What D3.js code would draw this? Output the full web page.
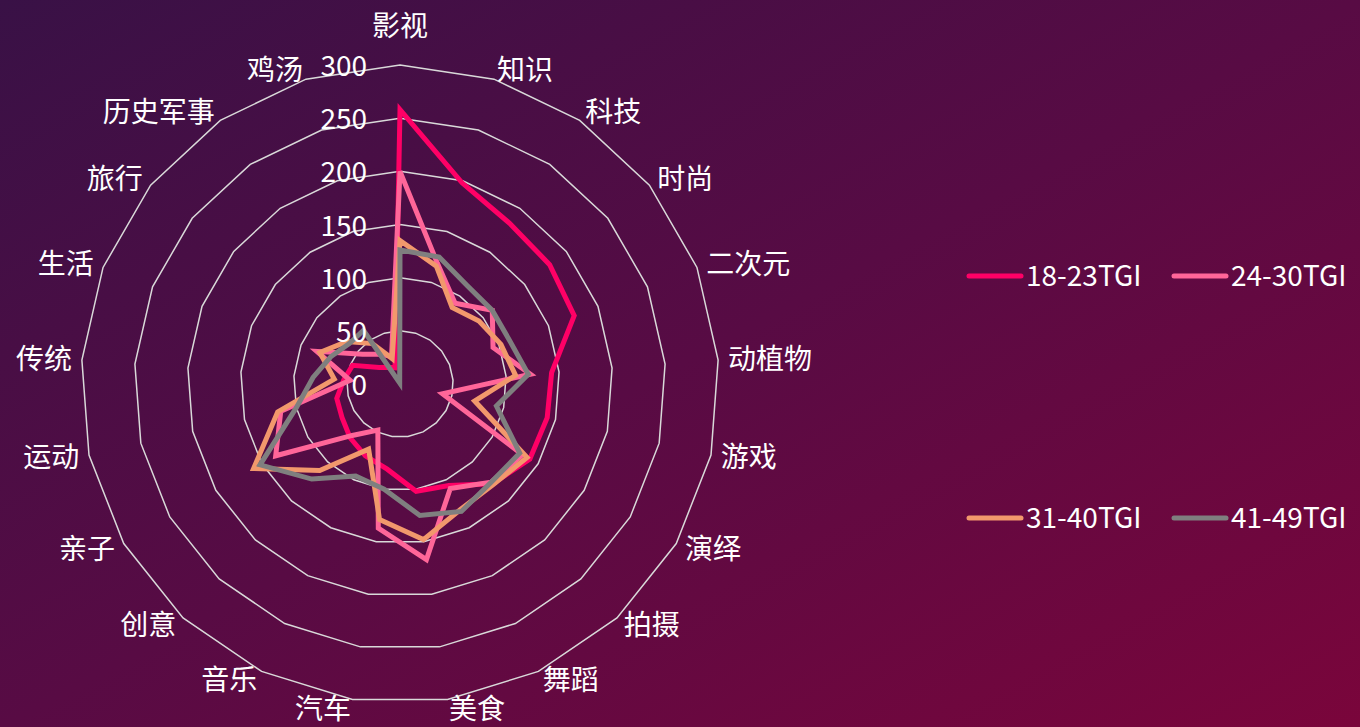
<!DOCTYPE html>
<html>
<head>
<meta charset="utf-8">
<script src="https://cdn.jsdelivr.net/npm/d3@7"></script>
<style>
  html, body { margin: 0; padding: 0; overflow: hidden; }
  svg { display: block; font-family: "Noto Sans CJK SC", "Noto Sans", sans-serif; }
</style>
</head>
<body>
<svg></svg>
<script>
var w = 1360, h = 727

// data
var categories = ["影视", "知识", "科技", "时尚", "二次元", "动植物", "游戏", "演绎", "拍摄", "舞蹈",
    "美食", "汽车", "音乐", "创意", "亲子", "运动", "传统", "生活", "旅行", "历史军事", "鸡汤"]
var seriesNames = ["18-23TGI", "24-30TGI", "31-40TGI", "41-49TGI"]
var tgi18_23 = [258, 198, 183, 180, 176, 143, 142, 141, 128, 106, 102, 81, 75, 69, 63, 61, 53, 48, 25, 19, 16]
var tgi24_30 = [200, 119, 92, 111, 94, 123, 41, 133, 126, 109, 167, 137, 48, 66, 135, 115, 47, 84, 45, 34, 27]
var tgi31_40 = [135, 116, 87, 95, 102, 109, 72, 138, 129, 131, 148, 129, 68, 111, 159, 118, 62, 81, 64, 46, 25]
var tgi41_49 = [126, 125, 112, 111, 111, 121, 93, 130, 126, 133, 125, 100, 96, 122, 152, 100, 82, 70, 61, 61, 1]
var ticks = [0, 50, 100, 150, 200, 250, 300]

var seriesValues = [tgi18_23, tgi24_30, tgi31_40, tgi41_49]
var colors = ["#ff0066", "#ff6699", "#f2986c", "#7f7f7f"]

var svg = d3.select("svg")
    .attr("width", w)
    .attr("height", h)

var defs = svg.append("defs")
var bg = defs.append("linearGradient")
    .attr("id", "bg")
    .attr("x1", 0).attr("y1", 0)
    .attr("x2", 1).attr("y2", 1)
bg.append("stop").attr("offset", "0%").attr("stop-color", "#391146")
bg.append("stop").attr("offset", "50%").attr("stop-color", "#580b44")
bg.append("stop").attr("offset", "100%").attr("stop-color", "#7a053b")

svg.append("rect")
    .attr("width", w)
    .attr("height", h)
    .attr("fill", "url(#bg)")

var cx = 400, cy = 384, R = 319
var r = d3.scaleLinear().domain([0, 300]).range([0, R])
var angle = d3.scalePoint().domain(d3.range(categories.length))
    .range([0, 2 * Math.PI * (categories.length - 1) / categories.length])

var g = svg.append("g")
    .attr("transform", "translate(" + cx + "," + cy + ")")

// grid rings (polygons)
var ring = d3.lineRadial()
    .angle(function(d, i) { return angle(i) })
    .radius(function(d) { return r(d) })
    .curve(d3.curveLinearClosed)

g.selectAll(".ring")
    .data(ticks.slice(1))
    .enter().append("path")
    .attr("class", "ring")
    .attr("d", function(t) { return ring(categories.map(function() { return t })) })
    .attr("fill", "none")
    .attr("stroke", "#d9d9d9")
    .attr("stroke-width", 1.5)

// series lines
var line = d3.lineRadial()
    .angle(function(d, i) { return angle(i) })
    .radius(function(d) { return r(d) })
    .curve(d3.curveLinearClosed)

g.selectAll(".series")
    .data(seriesValues)
    .enter().append("path")
    .attr("class", "series")
    .attr("d", function(d) { return line(d) })
    .attr("fill", "none")
    .attr("stroke", function(d, i) { return colors[i] })
    .attr("stroke-width", 5)
    .attr("stroke-linejoin", "miter")

// tick labels
g.selectAll(".tick")
    .data(ticks)
    .enter().append("text")
    .attr("class", "tick")
    .attr("x", -33)
    .attr("y", function(t) { return -r(t) - 1 })
    .attr("text-anchor", "end")
    .attr("dominant-baseline", "central")
    .attr("fill", "#fff")
    .attr("font-size", 28)
    .text(function(t) { return t })

// category labels
var gap = 10
g.selectAll(".cat")
    .data(categories)
    .enter().append("text")
    .attr("class", "cat")
    .each(function(d, i) {
        var a = angle(i)
        var s = Math.sin(a), c = Math.cos(a)
        var x = (R + gap) * s
        var y = -(R + gap) * c
        var anchor = Math.abs(s) < 1e-6 ? "middle" : (s > 0 ? "start" : "end")
        if (Math.abs(s) < 1e-6) y -= 29
        d3.select(this)
            .attr("x", x)
            .attr("y", y - 2)
            .attr("text-anchor", anchor)
    })
    .attr("dominant-baseline", "central")
    .attr("fill", "#fff")
    .attr("font-size", 28)
    .text(function(d) { return d })

// legend
var legendX = [967, 1172], legendY = [276, 518]
var legend = svg.selectAll(".legend")
    .data(seriesNames)
    .enter().append("g")
    .attr("class", "legend")
    .attr("transform", function(d, i) {
        return "translate(" + legendX[i % 2] + "," + legendY[Math.floor(i / 2)] + ")"
    })
legend.append("line")
    .attr("x1", 2).attr("x2", 54)
    .attr("y1", 0).attr("y2", 0)
    .attr("stroke", function(d, i) { return colors[i] })
    .attr("stroke-width", 5)
    .attr("stroke-linecap", "round")
legend.append("text")
    .attr("x", 59)
    .attr("y", -2)
    .attr("dominant-baseline", "central")
    .attr("fill", "#fff")
    .attr("font-size", 28)
    .text(function(d) { return d })
</script>
</body>
</html>
